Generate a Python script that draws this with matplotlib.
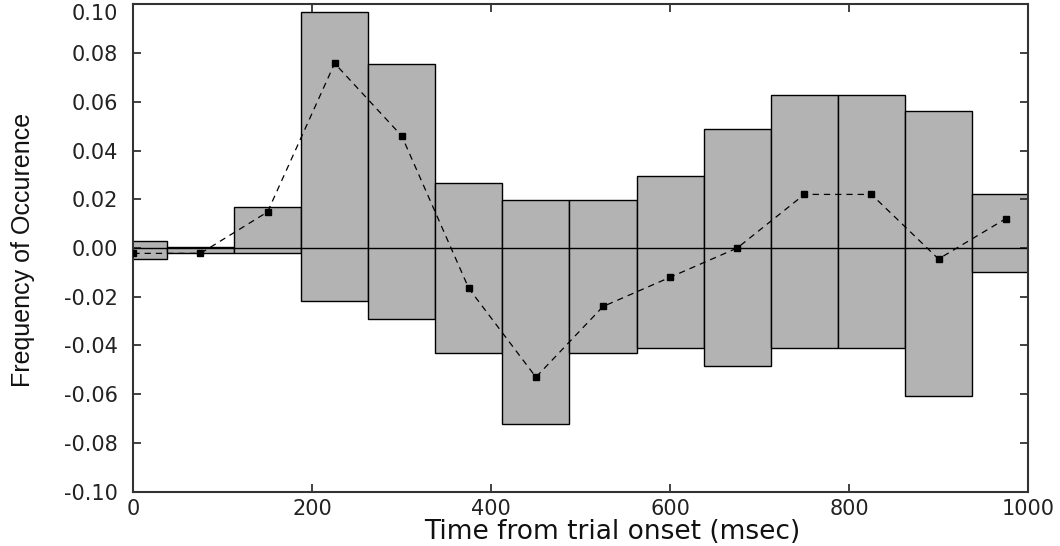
import matplotlib
matplotlib.use("Agg")
import matplotlib.pyplot as plt
import numpy as np

plt.rcParams['axes.unicode_minus'] = False

# bin centers (msec) and the range / mean values per bin
centers = [0, 75, 150, 225, 300, 375, 450, 525, 600, 675, 750, 825, 900, 975]
upper = [0.003, 0.0003, 0.017, 0.097, 0.0755, 0.0268, 0.0197, 0.0197, 0.0297, 0.0488, 0.0627, 0.0627, 0.0563, 0.022]
lower = [-0.0046, -0.0022, -0.002, -0.0216, -0.029, -0.0432, -0.0722, -0.0432, -0.0412, -0.0484, -0.0412, -0.0412, -0.0606, -0.0098]
means = [-0.0022, -0.0022, 0.0148, 0.0758, 0.046, -0.0166, -0.053, -0.024, -0.012, 0.0, 0.022, 0.022, -0.0045, 0.012]

xticks = [0, 200, 400, 600, 800, 1000]
yticks = [-0.10, -0.08, -0.06, -0.04, -0.02, 0.00, 0.02, 0.04, 0.06, 0.08, 0.10]

fig = plt.figure(figsize=(10.6, 5.46), dpi=100)
ax = fig.add_axes([0.1258, 0.0995, 0.9698 - 0.1258, 0.992 - 0.0995])

heights = np.array(upper) - np.array(lower)
ax.bar(centers, heights, bottom=lower, width=75, color='#b3b3b3',
       edgecolor='black', linewidth=1.0, zorder=1)
ax.axhline(0, color='black', linewidth=1.0, zorder=2)
ax.plot(centers, means, color='black', linestyle=(0, (5, 4)), linewidth=0.9,
        marker='s', markersize=5, zorder=3)

ax.set_xlim(0, 1000)
ax.set_ylim(-0.10, 0.10)
ax.set_xticks(xticks)
ax.set_yticks(yticks)
ax.set_yticklabels(["%.2f" % v for v in yticks])
ax.tick_params(direction='in', length=6, width=1.2, top=True, right=True,
               labelsize=15, colors='#222222')
ax.tick_params(axis='y', pad=11)
ax.tick_params(axis='x', pad=5)
for s in ax.spines.values():
    s.set_linewidth(1.5)
    s.set_color('#333333')

# top label sits inside the figure, like the original
ax.get_yticklabels()[-1].set_verticalalignment('top')

fig.text(0.578, 0.026, 'Time from trial onset (msec)', fontsize=19,
         ha='center', va='center', color='#111111')
fig.text(0.022, 0.542, 'Frequency of Occurence', fontsize=18, rotation=90,
         ha='center', va='center', color='#111111',
         family=['Liberation Sans', 'DejaVu Sans'])

fig.savefig('out.png', dpi=100)
